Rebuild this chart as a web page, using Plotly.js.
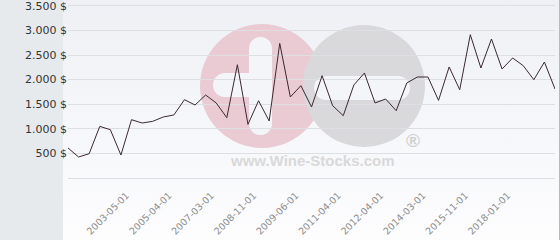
<!DOCTYPE html>
<html>
<head>
<meta charset="utf-8">
<script src="https://cdn.plot.ly/plotly-3.0.1.min.js"></script>
<style>
  html, body { margin: 0; padding: 0; }
  #chart {
    width: 560px; height: 240px;
    background:
      linear-gradient(to right, transparent 559px, #b9b9b9 559px),
      linear-gradient(to right, #e6eaed 63px, transparent 63px),
      linear-gradient(to bottom, #eef0f5, #fdfdfe);
  }
</style>
</head>
<body>
<div id="chart"></div>
<script>
// ---- data ----
const prices = [610, 427, 494, 1049, 982, 467, 1185, 1118, 1152, 1240,
                1281, 1592, 1484, 1687, 1525, 1226, 2303, 1090, 1571, 1159,
                2737, 1647, 1877, 1443, 2080, 1470, 1267, 1891, 2135, 1525,
                1606, 1368, 1931, 2053, 2053, 1578, 2257, 1795, 2913, 2236,
                2826, 2216, 2440, 2283, 1998, 2358, 1809];
const pointIndex = prices.map((_, i) => i);
const dateLabelIndex = [6, 10, 14, 18, 22, 26, 30, 34, 38, 42];
const dateLabels = ['2003-05-01', '2005-04-01', '2007-03-01', '2008-11-01', '2009-06-01',
                    '2011-04-01', '2012-04-01', '2014-03-01', '2015-11-01', '2018-01-01'];
const yTickValues = [500, 1000, 1500, 2000, 2500, 3000, 3500];
const yTickLabels = ['500 $', '1.000 $', '1.500 $', '2.000 $', '2.500 $', '3.000 $', '3.500 $'];

// ---- watermark helpers (pixel positions relative to plot bottom-left) ----
const L = 68, B = 178;
function pxShape(type, x0, y0, x1, y1, color) {
  return {
    type: type, layer: 'below',
    xref: 'paper', yref: 'paper', xsizemode: 'pixel', ysizemode: 'pixel',
    xanchor: 0, yanchor: 0,
    x0: x0 - L, x1: x1 - L, y0: B - y1, y1: B - y0,
    fillcolor: color, line: {width: 0}
  };
}
const pink = '#eacbd3', grey = '#d9d9db', hole = '#f4f5f8';
const shapes = [
  pxShape('circle', 200, 24, 324, 148, pink),
  pxShape('circle', 303, 25, 425, 147, grey),
  // white key shape in the pink disc
  pxShape('rect', 249, 48, 272, 124, hole),
  pxShape('circle', 249, 37, 272, 60, hole),
  pxShape('circle', 249, 112, 272, 135, hole),
  pxShape('rect', 225, 73, 260, 97, hole),
  pxShape('circle', 213, 73, 237, 97, hole),
  // white bar in the grey disc
  pxShape('rect', 326, 76, 398, 100, hole),
  pxShape('circle', 314, 76, 338, 100, hole),
  pxShape('circle', 386, 76, 410, 100, hole)
];
function pxText(text, x, y, size, color) {
  return {
    text: text, xref: 'paper', yref: 'paper', x: 0, y: 0,
    xanchor: 'center', yanchor: 'middle', showarrow: false,
    xshift: x - L, yshift: B - y,
    font: {family: 'Liberation Sans, Arial, sans-serif', size: size, color: color, weight: 'bold'}
  };
}

const trace = {
  x: pointIndex, y: prices, type: 'scatter', mode: 'lines',
  line: {color: '#3a2832', width: 1}, hoverinfo: 'skip'
};

const layout = {
  width: 560, height: 240,
  margin: {l: 68, r: 5, t: 4, b: 62, pad: 0},
  paper_bgcolor: 'rgba(0,0,0,0)', plot_bgcolor: 'rgba(0,0,0,0)',
  showlegend: false,
  xaxis: {
    range: [0, 46], showgrid: false, zeroline: false, showline: false,
    tickmode: 'array', tickvals: dateLabelIndex, ticktext: dateLabels,
    tickangle: -45, ticks: '', ticklabelstandoff: 9, ticklabelshift: -5,
    ticklabeloverflow: 'allow',
    tickfont: {family: 'DejaVu Sans', size: 9.5, color: '#8c8c8c'}
  },
  yaxis: {
    range: [0, 3537], showgrid: true, gridcolor: '#dedfe2', gridwidth: 1,
    zeroline: true, zerolinecolor: '#dedfe2', zerolinewidth: 1, showline: false,
    tickmode: 'array', tickvals: yTickValues, ticktext: yTickLabels, ticks: '',
    ticklabeloverflow: 'allow',
    tickfont: {family: 'DejaVu Sans', size: 11, color: '#333333'}
  },
  shapes: shapes,
  annotations: [
    pxText('www.Wine-Stocks.com', 312, 160, 15, '#d9d9d9'),
    pxText('®', 413, 140, 19, '#d0d0d0')
  ]
};

Plotly.newPlot('chart', [trace], layout, {displayModeBar: false, staticPlot: true});
</script>
</body>
</html>
